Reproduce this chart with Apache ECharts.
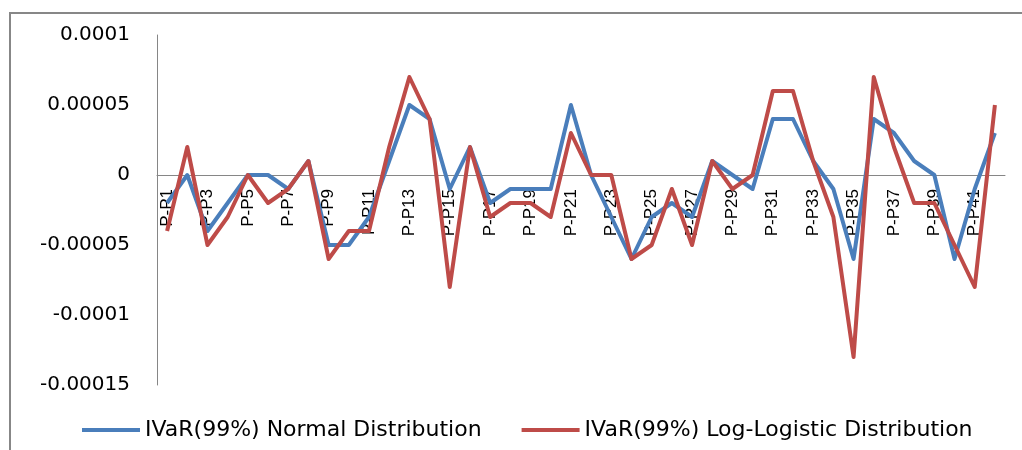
<!DOCTYPE html>
<html>
<head>
<meta charset="utf-8">
<script src="https://cdn.jsdelivr.net/npm/echarts@6/dist/echarts.min.js"></script>
<style>
  html, body { margin: 0; padding: 0; background: #ffffff; overflow: hidden; }
  #frameTop { position: absolute; left: 9px; top: 12px; width: 1013px; height: 2px; background: #878787; }
  #frameLeft { position: absolute; left: 9px; top: 12px; width: 2px; height: 438px; background: #878787; }
  #chart { position: absolute; left: 0; top: 0; width: 1022px; height: 450px; }
</style>
</head>
<body>
<div id="frameTop"></div>
<div id="frameLeft"></div>
<div id="chart"></div>
<script>
const categories = [];
for (let i = 1; i <= 42; i++) categories.push('P-P' + i);

const normalIVaR = [
  -0.00002, 0, -0.00004, -0.00002, 0, 0, -0.00001, 0.00001, -0.00005, -0.00005,
  -0.00003, 0.00001, 0.00005, 0.00004, -0.00001, 0.00002, -0.00002, -0.00001, -0.00001, -0.00001,
  0.00005, 0, -0.00003, -0.00006, -0.00003, -0.00002, -0.00003, 0.00001, 0, -0.00001,
  0.00004, 0.00004, 0.00001, -0.00001, -0.00006, 0.00004, 0.00003, 0.00001, 0, -0.00006,
  -0.00001, 0.00003
];

const logLogisticIVaR = [
  -0.00004, 0.00002, -0.00005, -0.00003, 0, -0.00002, -0.00001, 0.00001, -0.00006, -0.00004,
  -0.00004, 0.00002, 0.00007, 0.00004, -0.00008, 0.00002, -0.00003, -0.00002, -0.00002, -0.00003,
  0.00003, 0, 0, -0.00006, -0.00005, -0.00001, -0.00005, 0.00001, -0.00001, 0,
  0.00006, 0.00006, 0.00001, -0.00003, -0.00013, 0.00007, 0.00002, -0.00002, -0.00002, -0.00005,
  -0.00008, 0.00005
];

const seriesNames = ['IVaR(99%) Normal Distribution', 'IVaR(99%) Log-Logistic Distribution'];
const yTickLabels = ['-0.00015', '-0.0001', '-0.00005', '0', '0.00005', '0.0001'];

const yMin = -0.00015, yMax = 0.0001;
const gridTop = 35, gridBottom = 65, chartH = 450;
const plotH = chartH - gridTop - gridBottom;
// move the category axis (line + labels) up to the zero value
const zeroOffset = -plotH * (0 - yMin) / (yMax - yMin);

const chart = echarts.init(document.getElementById('chart'), null, { renderer: 'canvas' });
chart.setOption({
  animation: false,
  backgroundColor: 'transparent',
  grid: { left: 157, right: 17, top: gridTop, bottom: gridBottom, containLabel: false },
  legend: {
    left: 77, top: 414,
    icon: 'rect', itemWidth: 58, itemHeight: 4, itemGap: 40,
    textStyle: { fontFamily: 'DejaVu Sans', fontSize: 22, color: '#000' },
    data: seriesNames
  },
  xAxis: {
    type: 'category',
    data: categories,
    boundaryGap: true,
    position: 'bottom',
    offset: zeroOffset,
    axisLine: { onZero: false, lineStyle: { color: '#868686', width: 1 } },
    axisTick: { show: false },
    axisLabel: {
      interval: 1, rotate: 90, margin: 14,
      fontFamily: 'Liberation Sans', fontSize: 17, color: '#000'
    },
    splitLine: { show: false }
  },
  yAxis: {
    type: 'value',
    min: yMin, max: yMax, interval: 0.00005,
    axisLine: { show: true, lineStyle: { color: '#868686', width: 1 } },
    axisTick: { show: false },
    splitLine: { show: false },
    axisLabel: {
      margin: 27, fontFamily: 'DejaVu Sans', fontSize: 20, color: '#000',
      formatter: function (v) {
        const s = parseFloat(v.toFixed(6)).toString();
        const i = yTickLabels.indexOf(s);
        return i >= 0 ? yTickLabels[i] : s;
      }
    }
  },
  series: [
    {
      name: seriesNames[0], type: 'line', data: normalIVaR,
      showSymbol: false, symbol: 'none', z: 2,
      itemStyle: { color: '#4A7EBB' },
      lineStyle: { color: '#4A7EBB', width: 4, join: 'round' }
    },
    {
      name: seriesNames[1], type: 'line', data: logLogisticIVaR,
      showSymbol: false, symbol: 'none', z: 3,
      itemStyle: { color: '#BE4B48' },
      lineStyle: { color: '#BE4B48', width: 4, join: 'round' }
    }
  ]
});
</script>
</body>
</html>
